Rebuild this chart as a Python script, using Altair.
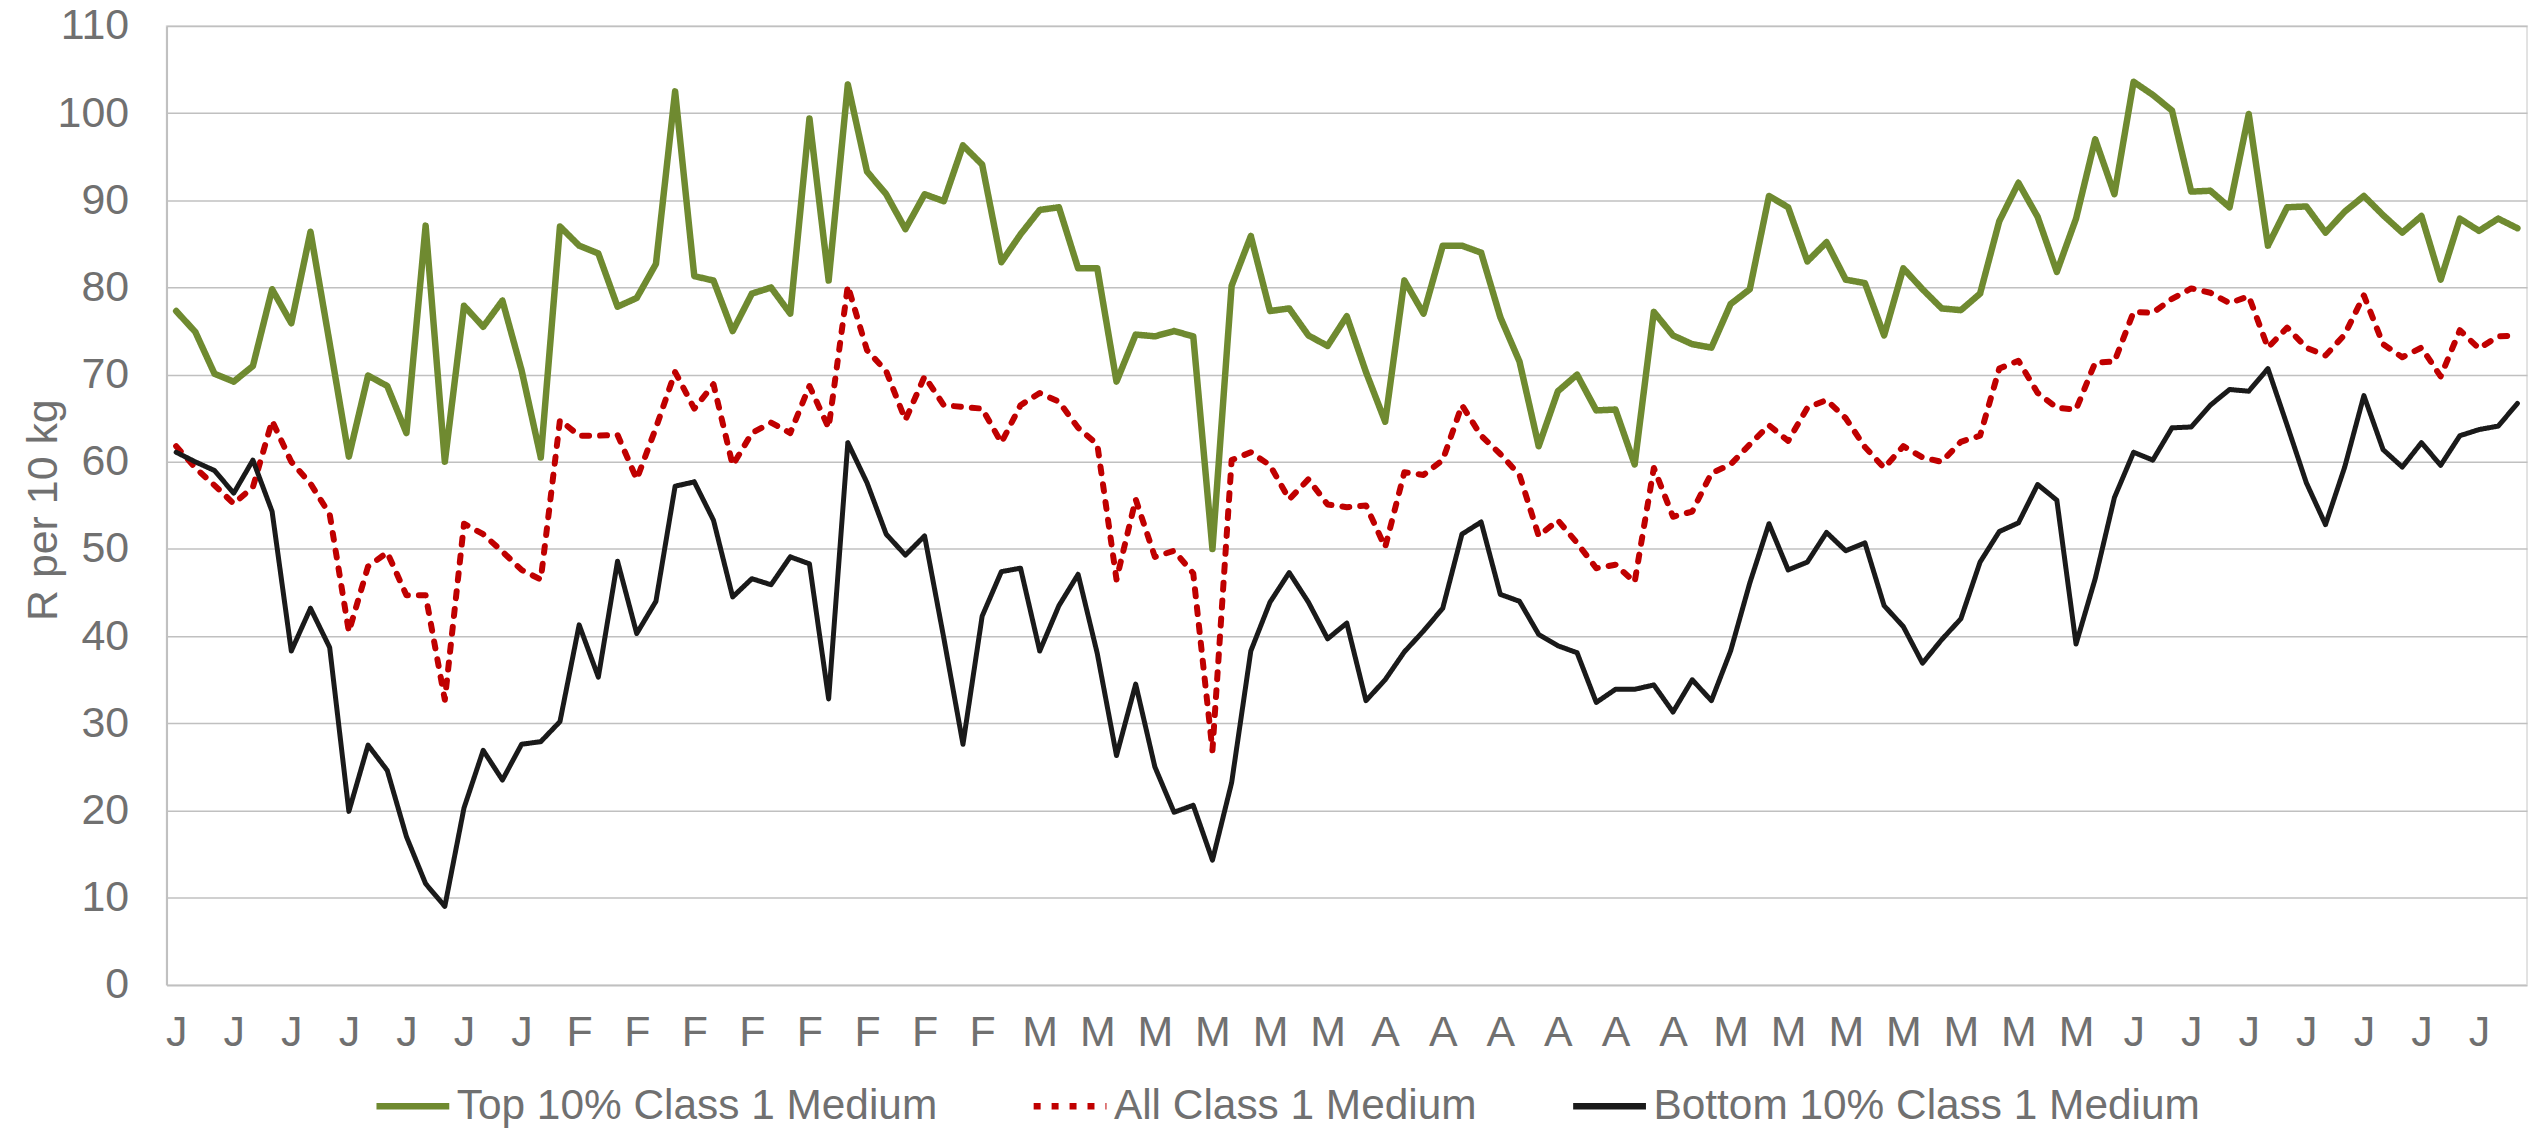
import altair as alt
import pandas as pd

series_names = ["Top 10% Class 1 Medium", "All Class 1 Medium", "Bottom 10% Class 1 Medium"]
series_colors = ["#6F8A30", "#C00000", "#1A1A1A"]
series_widths = [6.5, 6, 5]

top10 = [
    77.3, 74.9, 70.1, 69.2, 71.0, 79.8, 75.9, 86.4, 73.6, 60.6,
    69.9, 68.7, 63.3, 87.1, 60.0, 77.9, 75.5, 78.5, 70.5, 60.5,
    87.0, 84.8, 83.9, 77.8, 78.8, 82.7, 102.5, 81.3, 80.8, 75.0,
    79.3, 80.0, 77.0, 99.4, 80.8, 103.3, 93.3, 90.7, 86.7, 90.7,
    89.9, 96.3, 94.1, 82.9, 86.1, 88.9, 89.2, 82.2, 82.2, 69.2,
    74.6, 74.4, 75.0, 74.4, 50.0, 80.2, 85.9, 77.3, 77.6, 74.5,
    73.3, 76.7, 70.3, 64.6, 80.8, 77.0, 84.8, 84.8, 84.0, 76.6,
    71.5, 61.8, 68.1, 70.0, 65.9, 66.0, 59.7, 77.2, 74.5, 73.5,
    73.1, 78.1, 79.8, 90.5, 89.2, 83.0, 85.2, 80.9, 80.5, 74.5,
    82.2, 79.8, 77.6, 77.4, 79.3, 87.6, 92.0, 88.1, 81.8, 87.9,
    97.0, 90.7, 103.6, 102.1, 100.3, 91.0, 91.1, 89.2, 99.9, 84.8,
    89.2, 89.3, 86.3, 88.7, 90.5, 88.3, 86.3, 88.2, 80.9, 87.9,
    86.5, 87.9, 86.8,
]

all_class = [
    61.8, 59.3, 57.3, 55.2, 57.1, 64.7, 60.0, 57.5, 54.0, 40.5,
    48.0, 49.6, 44.7, 44.7, 32.7, 52.9, 51.7, 49.7, 47.6, 46.5,
    64.8, 63.0, 63.0, 63.1, 58.0, 63.9, 70.3, 66.1, 68.9, 59.6,
    63.3, 64.5, 63.3, 68.7, 63.9, 80.2, 72.8, 70.4, 64.8, 69.8,
    66.5, 66.3, 66.1, 62.2, 66.5, 67.9, 66.9, 63.9, 62.0, 46.5,
    55.7, 49.1, 49.8, 47.2, 26.9, 60.2, 61.1, 59.6, 55.7, 58.0,
    55.1, 54.8, 55.0, 50.2, 58.8, 58.5, 60.2, 66.5, 63.0, 60.9,
    58.5, 51.5, 53.3, 50.7, 47.8, 48.2, 46.2, 59.3, 53.7, 54.3,
    58.7, 59.7, 62.0, 64.2, 62.4, 66.2, 67.1, 65.0, 61.7, 59.3,
    61.8, 60.5, 60.0, 62.3, 63.0, 70.7, 71.6, 67.9, 66.2, 66.0,
    71.4, 71.5, 77.2, 77.1, 78.7, 79.9, 79.4, 78.2, 79.0, 73.1,
    75.4, 73.1, 72.2, 74.6, 79.1, 73.5, 72.0, 73.1, 69.8, 75.1,
    73.0, 74.4, 74.5,
]

bottom10 = [
    61.1, 60.0, 59.0, 56.4, 60.2, 54.3, 38.3, 43.2, 38.7, 19.9,
    27.5, 24.6, 17.0, 11.6, 9.0, 20.3, 26.9, 23.5, 27.6, 27.9,
    30.2, 41.3, 35.3, 48.6, 40.3, 44.0, 57.2, 57.7, 53.3, 44.5,
    46.6, 45.9, 49.1, 48.3, 32.8, 62.2, 57.6, 51.7, 49.3, 51.5,
    39.8, 27.6, 42.3, 47.4, 47.8, 38.3, 43.5, 47.1, 38.0, 26.3,
    34.5, 25.0, 19.8, 20.6, 14.3, 23.2, 38.3, 43.9, 47.3, 43.9,
    39.7, 41.5, 32.6, 35.0, 38.2, 40.6, 43.2, 51.7, 53.1, 44.8,
    44.0, 40.2, 38.9, 38.1, 32.4, 33.9, 33.9, 34.4, 31.3, 35.0,
    32.6, 38.3, 46.1, 52.9, 47.6, 48.5, 51.9, 49.8, 50.7, 43.5,
    41.1, 36.9, 39.6, 42.0, 48.5, 52.0, 53.0, 57.4, 55.6, 39.1,
    46.6, 55.9, 61.1, 60.2, 63.9, 64.0, 66.5, 68.3, 68.1, 70.7,
    64.2, 57.6, 52.8, 59.4, 67.6, 61.4, 59.4, 62.2, 59.6, 63.0,
    63.7, 64.1, 66.7,
]

# one label for every third week
tick_letters = (["J"] * 7 + ["F"] * 8 + ["M"] * 6 + ["A"] * 6 + ["M"] * 7 + ["J"] * 7)

rows = []
for name, vals in zip(series_names, [top10, all_class, bottom10]):
    for i, v in enumerate(vals):
        rows.append({"week": i, "value": v, "series": name})
df = pd.DataFrame(rows)

n = len(top10)
tick_values = list(range(0, n, 3))[: len(tick_letters)]
label_expr = "[" + ",".join("'" + c + "'" for c in tick_letters) + "][round(datum.value / 3)]"

TEXT = "#707070"
FONT = "Liberation Sans"

legend = alt.Legend(
    title=None,
    orient="none",
    legendX=207,
    legendY=1043,
    direction="horizontal",
    symbolType="stroke",
    symbolSize=5329,
    symbolStrokeWidth=6.5,
    labelFontSize=42.5,
    labelFont=FONT,
    labelColor=TEXT,
    labelLimit=0,
    labelOffset=4,
    columnPadding=83,
    padding=0,
)

x_enc = alt.X(
    "week:Q",
    scale=alt.Scale(domain=[-0.5, n - 0.5], nice=False, zero=False),
    axis=alt.Axis(
        values=tick_values,
        labelExpr=label_expr,
        title=None,
        grid=False,
        ticks=False,
        tickSize=0,
        domain=False,
        labelFontSize=43,
        labelFont=FONT,
        labelColor=TEXT,
        labelPadding=27,
        labelFlush=False,
        labelOverlap=False,
    ),
)

y_enc = alt.Y(
    "value:Q",
    scale=alt.Scale(domain=[0, 110], nice=False),
    axis=alt.Axis(
        values=list(range(0, 111, 10)),
        title="R per 10 kg",
        titleFontSize=43,
        titleFont=FONT,
        titleColor=TEXT,
        titleFontWeight="normal",
        titleAngle=270,
        titleBaseline="alphabetic",
        titleAlign="center",
        titleX=-110,
        titleY=485,
        grid=True,
        gridColor="#C0C0C0",
        gridWidth=1.5,
        ticks=False,
        tickSize=0,
        domain=True,
        domainColor="#C0C0C0",
        domainWidth=2,
        labelFontSize=43,
        labelFont=FONT,
        labelColor=TEXT,
        labelPadding=38,
    ),
)

color_enc = alt.Color(
    "series:N",
    scale=alt.Scale(domain=series_names, range=series_colors),
    legend=legend,
)
dash_enc = alt.StrokeDash(
    "series:N",
    scale=alt.Scale(domain=series_names, range=[[1, 0], [7, 11], [1, 0]]),
    legend=legend,
)

layers = []
for name, w in zip(series_names, series_widths):
    layers.append(
        alt.Chart(df)
        .transform_filter(alt.datum.series == name)
        .mark_line(strokeWidth=w, strokeCap="round", strokeJoin="round")
        .encode(x=x_enc, y=y_enc, color=color_enc, strokeDash=dash_enc, order=alt.Order("week:Q"))
    )

chart = (
    alt.layer(*layers)
    .properties(
        width=2367,
        height=961.5,
        autosize=alt.AutoSizeParams(type="none"),
        padding={"left": 159, "top": 16.5, "right": 4, "bottom": 142},
    )
    .configure_view(stroke="#D9D9D9", strokeWidth=1.5)
)

chart.save("out.html", embed_options={"renderer": "svg", "actions": False})
